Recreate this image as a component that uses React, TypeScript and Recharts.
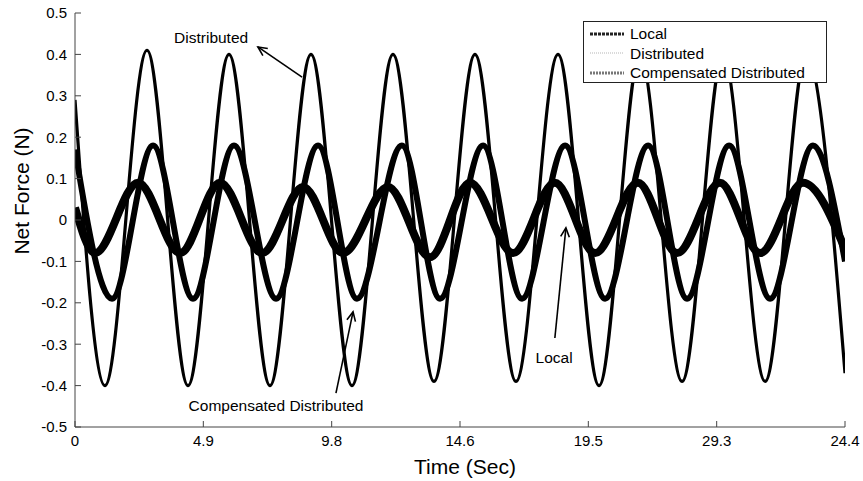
import React from 'react';
import { LineChart, Line, XAxis, YAxis, ReferenceLine, ReferenceDot } from 'recharts';

const FONT = '"Liberation Sans", Arial, Helvetica, sans-serif';

// axis ticks (the 5th/6th time labels are swapped in the original figure)
const timeTicks = [0, 4.883, 9.767, 14.65, 19.533, 24.417, 29.3];
const timeTickLabels = ['0', '4.9', '9.8', '14.6', '19.5', '29.3', '24.4'];
const forceTicks = [-0.5, -0.4, -0.3, -0.2, -0.1, 0, 0.1, 0.2, 0.3, 0.4, 0.5];
const forceTickLabels = ['-0.5', '-0.4', '-0.3', '-0.2', '-0.1', '0', '0.1', '0.2', '0.3', '0.4', '0.5'];

// turning points of each noisy band
const localTime = [0, 0.76, 2.4, 4.0, 5.52, 7.12, 8.68, 10.2, 11.91, 13.51, 15.03, 16.67, 18.26, 19.79, 21.42, 22.91, 24.54, 26.07, 27.7, 29.3];
const localForce = [0.03, -0.08, 0.09, -0.08, 0.09, -0.08, 0.08, -0.08, 0.08, -0.09, 0.09, -0.08, 0.09, -0.08, 0.09, -0.08, 0.09, -0.08, 0.09, -0.07];

const distTime = [0, 1.14, 2.74, 4.3, 5.86, 7.42, 8.98, 10.54, 12.1, 13.66, 15.22, 16.78, 18.38, 19.94, 21.5, 23.1, 24.66, 26.26, 27.82, 29.3];
const distForce = [0.29, -0.4, 0.41, -0.4, 0.4, -0.4, 0.4, -0.4, 0.4, -0.39, 0.4, -0.39, 0.4, -0.4, 0.4, -0.39, 0.4, -0.39, 0.4, -0.37];

const compTime = [0, 1.41, 2.97, 4.49, 6.05, 7.65, 9.25, 10.73, 12.44, 13.89, 15.53, 17.01, 18.65, 20.17, 21.81, 23.29, 24.89, 26.45, 28.08, 29.3];
const compForce = [0.17, -0.19, 0.18, -0.19, 0.18, -0.19, 0.18, -0.19, 0.18, -0.19, 0.18, -0.19, 0.18, -0.19, 0.18, -0.19, 0.18, -0.19, 0.18, -0.1];

const toPoints = (ts: number[], vs: number[]) => ts.map((t, i) => ({ t, force: vs[i] }));

const localData = toPoints(localTime, localForce);
const distData = toPoints(distTime, distForce);
const compData = toPoints(compTime, compForce);

// annotation text + arrows (data coordinates)
const notes = [
  { text: 'Distributed', t: 5.18, f: 0.442, from: [8.64, 0.345], to: [6.96, 0.418] },
  { text: 'Compensated Distributed', t: 7.65, f: -0.447, from: [9.93, -0.418], to: [10.58, -0.222] },
  { text: 'Local', t: 18.23, f: -0.331, from: [18.26, -0.285], to: [18.68, -0.019] },
];

const AXIS = '#444';

const BottomTick = (props: any) => {
  const { x, y, payload } = props;
  const i = timeTicks.indexOf(payload.value);
  return (
    <g>
      <line x1={x} y1={y} x2={x} y2={y - 6} stroke={AXIS} />
      <text x={x} y={y + 8} dy="0.71em" textAnchor="middle" fontSize={15} fill="#000" fontFamily={FONT}>
        {timeTickLabels[i]}
      </text>
    </g>
  );
};

const TopTick = (props: any) => {
  const { x, y } = props;
  return <line x1={x} y1={y} x2={x} y2={y + 6} stroke={AXIS} />;
};

const LeftTick = (props: any) => {
  const { x, y, payload } = props;
  const i = forceTicks.findIndex((v) => Math.abs(v - payload.value) < 1e-9);
  return (
    <g>
      <line x1={x} y1={y} x2={x + 6} y2={y} stroke={AXIS} />
      <text x={x - 8} y={y} dy="0.36em" textAnchor="end" fontSize={15} fill="#000" fontFamily={FONT}>
        {forceTickLabels[i]}
      </text>
    </g>
  );
};

const RightTick = (props: any) => {
  const { x, y } = props;
  return <line x1={x} y1={y} x2={x - 6} y2={y} stroke={AXIS} />;
};

const Arrow = (props: any) => {
  const { x1, y1, x2, y2 } = props;
  const ang = Math.atan2(y2 - y1, x2 - x1);
  const len = 10;
  const spread = 0.45;
  const ax = x2 - len * Math.cos(ang - spread);
  const ay = y2 - len * Math.sin(ang - spread);
  const bx = x2 - len * Math.cos(ang + spread);
  const by = y2 - len * Math.sin(ang + spread);
  return (
    <g>
      <line x1={x1} y1={y1} x2={x2} y2={y2} stroke="#000" strokeWidth={1.6} />
      <polyline points={`${ax},${ay} ${x2},${y2} ${bx},${by}`} fill="none" stroke="#000" strokeWidth={1.6} />
    </g>
  );
};

const legendRows = [
  { name: 'Local', stroke: '#222', width: 3, dash: '3 1' },
  { name: 'Distributed', stroke: '#b5b5b5', width: 1, dash: '1 1' },
  { name: 'Compensated Distributed', stroke: '#777', width: 3, dash: '2 1' },
];

export default function App() {
  return (
    <div style={{ position: 'absolute', left: 0, top: 0, width: 863, height: 481, background: '#fff', fontFamily: FONT }}>
      <LineChart width={863} height={481} margin={{ top: 13, right: 18, bottom: 24, left: 8 }}>
        <XAxis
          dataKey="t"
          type="number"
          domain={[0, 29.3]}
          ticks={timeTicks}
          interval={0}
          allowDataOverflow
          height={30}
          tickSize={0}
          tickMargin={0}
          tick={<BottomTick />}
          tickLine={false}
          axisLine={{ stroke: AXIS }}
          label={{
            content: () => (
              <text x={465} y={466} dy="0.36em" textAnchor="middle" fontSize={21} fill="#000" fontFamily={FONT}>
                Time (Sec)
              </text>
            ),
          }}
        />
        <XAxis
          xAxisId="top"
          orientation="top"
          dataKey="t"
          type="number"
          domain={[0, 29.3]}
          ticks={timeTicks}
          interval={0}
          allowDataOverflow
          height={0}
          tickSize={0}
          tickMargin={0}
          tick={<TopTick />}
          tickLine={false}
          axisLine={{ stroke: AXIS }}
        />
        <YAxis
          type="number"
          domain={[-0.5, 0.5]}
          ticks={forceTicks}
          interval={0}
          allowDataOverflow
          width={67}
          tickSize={0}
          tickMargin={0}
          tick={<LeftTick />}
          tickLine={false}
          axisLine={{ stroke: AXIS }}
          label={{
            content: () => (
              <text x={21} y={191} dy="0.36em" textAnchor="middle" fontSize={21} fill="#000" fontFamily={FONT} transform="rotate(-90 21 191)">
                Net Force (N)
              </text>
            ),
          }}
        />
        <YAxis
          yAxisId="right"
          orientation="right"
          type="number"
          domain={[-0.5, 0.5]}
          ticks={forceTicks}
          interval={0}
          allowDataOverflow
          width={0}
          tickSize={0}
          tickMargin={0}
          tick={<RightTick />}
          tickLine={false}
          axisLine={{ stroke: AXIS }}
        />
        <Line data={distData} dataKey="force" name="Distributed" type="monotone" stroke="#000" strokeWidth={3.2} dot={false} isAnimationActive={false} />
        <Line data={compData} dataKey="force" name="Compensated Distributed" type="monotone" stroke="#000" strokeWidth={6} dot={false} isAnimationActive={false} />
        <Line data={localData} dataKey="force" name="Local" type="monotone" stroke="#000" strokeWidth={8} dot={false} isAnimationActive={false} />
        {notes.map((n) => (
          <ReferenceLine
            key={n.text + 'arrow'}
            segment={[{ x: n.from[0], y: n.from[1] }, { x: n.to[0], y: n.to[1] }]}
            shape={Arrow}
            ifOverflow="visible"
          />
        ))}
        {notes.map((n) => (
          <ReferenceDot
            key={n.text}
            x={n.t}
            y={n.f}
            r={0}
            fill="none"
            stroke="none"
            ifOverflow="visible"
            label={{ value: n.text, position: 'center', fontSize: 15.5, fill: '#000', fontFamily: FONT }}
          />
        ))}
      </LineChart>
      <div
        style={{
          position: 'absolute',
          left: 583,
          top: 21,
          width: 244,
          height: 62,
          boxSizing: 'border-box',
          border: '1px solid #222',
          background: '#fff',
          paddingTop: 2,
        }}
      >
        {legendRows.map((r) => (
          <div key={r.name} style={{ display: 'flex', alignItems: 'center', height: 19.5 }}>
            <svg width={44} height={10} style={{ marginLeft: 2 }}>
              <line x1={4} y1={5} x2={38} y2={5} stroke={r.stroke} strokeWidth={r.width} strokeDasharray={r.dash} />
            </svg>
            <span style={{ fontSize: 15.5, color: '#000', lineHeight: '19px' }}>{r.name}</span>
          </div>
        ))}
      </div>
    </div>
  );
}
